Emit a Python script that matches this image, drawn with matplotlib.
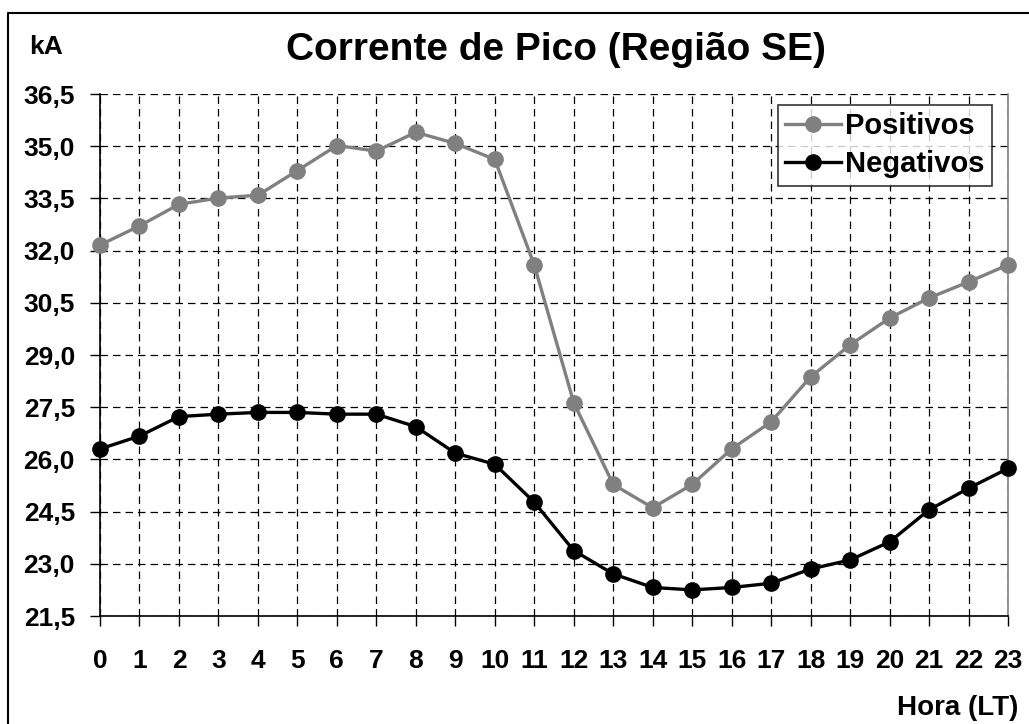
import matplotlib
matplotlib.use("Agg")
import matplotlib.pyplot as plt
from matplotlib.lines import Line2D

plt.rcParams['font.family'] = ['Liberation Sans', 'DejaVu Sans']
plt.rcParams['font.weight'] = 'bold'

horas = list(range(24))
positivos = [32.16, 32.71, 33.33, 33.51, 33.59, 34.30, 35.02, 34.86, 35.40, 35.08,
             34.62, 31.59, 27.63, 25.28, 24.61, 25.28, 26.30, 27.08, 28.37, 29.29,
             30.06, 30.64, 31.10, 31.59]
negativos = [26.30, 26.67, 27.23, 27.30, 27.35, 27.35, 27.30, 27.30, 26.94, 26.18,
             25.86, 24.77, 23.38, 22.71, 22.32, 22.25, 22.32, 22.44, 22.85, 23.11,
             23.63, 24.55, 25.17, 25.74]
y_ticks = [21.5, 23.0, 24.5, 26.0, 27.5, 29.0, 30.5, 32.0, 33.5, 35.0, 36.5]
y_labels = ['21,5', '23,0', '24,5', '26,0', '27,5', '29,0', '30,5', '32,0', '33,5', '35,0', '36,5']

W, H = 1029, 724
fig = plt.figure(figsize=(W / 100, H / 100), dpi=100)
ax = fig.add_axes([100 / W, 1 - 616 / H, 908 / W, 522 / H])

ax.plot(horas, positivos, color='#808080', lw=2.4, marker='o', ms=11,
        label='Positivos', zorder=3, clip_on=False)
ax.plot(horas, negativos, color='black', lw=2.4, marker='o', ms=11,
        label='Negativos', zorder=3, clip_on=False)

ax.set_xlim(0, 23)
ax.set_ylim(21.5, 36.5)
ax.set_xticks(horas)
ax.set_xticklabels([str(h) for h in horas], fontsize=19, fontweight='bold')
ax.set_yticks(y_ticks)
ax.set_yticklabels(y_labels, fontsize=19, fontweight='bold')
ax.tick_params(axis='x', direction='out', length=7, width=1, pad=17)
ax.tick_params(axis='y', direction='out', length=7, width=1, pad=11)

ax.grid(True, color='black', linestyle=(0, (6, 4)), linewidth=0.9)
ax.set_axisbelow(True)
ax.spines['top'].set_visible(False)
ax.spines['right'].set_color('#808080')
ax.spines['right'].set_linewidth(1.2)
ax.spines['left'].set_linewidth(1.2)
ax.spines['bottom'].set_linewidth(1.2)

leg = ax.legend(loc='upper right', bbox_to_anchor=(992 / W, 1 - 105 / H),
                bbox_transform=fig.transFigure, fontsize=21, frameon=True,
                fancybox=False, edgecolor='black', handlelength=1.9,
                handletextpad=0.15, borderpad=0.25, labelspacing=0.35,
                borderaxespad=0)
leg.get_frame().set_linewidth(1.2)
for t in leg.get_texts():
    t.set_fontweight('bold')

fig.text(556 / W, 1 - 50 / H, 'Corrente de Pico (Região SE)', ha='center',
         va='center', fontsize=28, fontweight='bold')
fig.text(46 / W, 1 - 47 / H, 'kA', ha='center', va='center', fontsize=19,
         fontweight='bold')
fig.text(1018 / W, 1 - 708 / H, 'Hora (LT)', ha='right', va='center',
         fontsize=20, fontweight='bold')

# outer frame
fig.add_artist(Line2D([8 / W, 8 / W, 1.0], [0.0, 1 - 13 / H, 1 - 13 / H],
                      transform=fig.transFigure, color='black', lw=1.5))

fig.savefig('out.png', dpi=100)
